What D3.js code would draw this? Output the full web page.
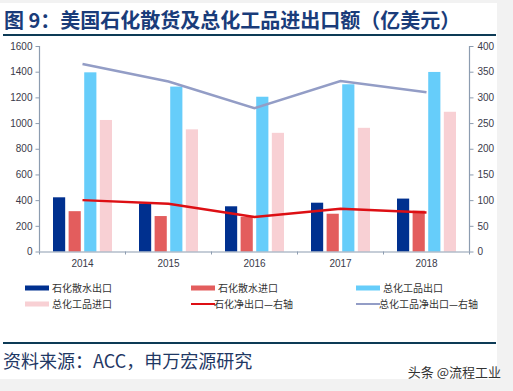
<!DOCTYPE html>
<html><head><meta charset="utf-8">
<script src="https://cdn.jsdelivr.net/npm/d3@7"></script>
<style>
body{margin:0;background:#f2f2f2;}
svg{display:block;font-family:"Liberation Sans",Arial,"Noto Sans CJK SC",sans-serif;}
</style></head><body>
<svg id="c" width="513" height="391"></svg>
<script>
const years = ["2014","2015","2016","2017","2018"];
const petroExport = [422, 374, 352, 380, 412];
const petroImport = [314, 276, 270, 294, 318];
const chemExport  = [1395, 1284, 1205, 1302, 1398];
const chemImport  = [1024, 951, 924, 963, 1088];
const petroNet    = [100, 93, 67, 83, 76];
const chemNet     = [365, 331, 279, 332, 310];
const leftTicks  = [0,200,400,600,800,1000,1200,1400,1600];
const rightTicks = [0,50,100,150,200,250,300,350,400];
const barSeries = ["石化散水出口","石化散水进口","总化工品出口","总化工品进口"];
const lineSeries = ["石化净出口—右轴","总化工品净出口—右轴"];

const svg = d3.select("#c");
svg.append("rect").attr("x",0).attr("y",3).attr("width",497).attr("height",376).attr("fill","#fff");

// title
svg.append("text").attr("x",4).attr("y",28).attr("fill","#1a3c7a").attr("font-size",20)
  .attr("font-weight","bold").attr("font-family","'Noto Sans CJK SC',sans-serif")
  .text("图 9：美国石化散货及总化工品进出口额（亿美元）");
svg.append("line").attr("x1",3).attr("x2",496).attr("y1",35).attr("y2",35)
  .attr("stroke","#0d3b56").attr("stroke-width",2);

const L=39.5, R=469.5, T=46, B=251.5;
const x = d3.scaleBand().domain(years).range([L,R]).paddingInner(0).paddingOuter(0);
const yL = d3.scaleLinear().domain([0,1600]).range([B,T]);
const yR = d3.scaleLinear().domain([0,400]).range([B,T]);
const inner = d3.scaleBand().domain([0,1,2,3]).range([13.5, x.bandwidth()-13.5]).paddingInner(0.22);

const barData = [petroExport, petroImport, chemExport, chemImport];
const barColors = ["#00308f","#e35d5d","#66cdfa","#f8d0d4"];
const lineData = [petroNet, chemNet];
const lineColors = ["#dd0f14","#939dc6"];

barData.forEach((arr,i)=>{
  svg.append("g").selectAll("rect").data(arr).join("rect")
    .attr("x",(d,j)=>x(years[j])+inner(i))
    .attr("width",inner.bandwidth())
    .attr("y",d=>yL(d)).attr("height",d=>B-yL(d))
    .attr("fill",barColors[i]);
});

// axes
const axisColor="#8c9cb0", labColor="#3a3a4a";
const gl = svg.append("g").attr("transform",`translate(${L},0)`)
  .call(d3.axisLeft(yL).tickValues(leftTicks).tickFormat(d3.format("d")).tickSize(4).tickPadding(3));
const gr = svg.append("g").attr("transform",`translate(${R},0)`)
  .call(d3.axisRight(yR).tickValues(rightTicks).tickFormat(d3.format("d")).tickSize(4).tickPadding(4));
const gx = svg.append("g").attr("transform",`translate(0,${B})`)
  .call(d3.axisBottom(x).tickSize(0).tickPadding(8));
[gl,gr,gx].forEach(g=>{
  g.selectAll("path").attr("stroke",axisColor).attr("stroke-width",1.2);
  g.selectAll("line").attr("stroke",axisColor);
  g.selectAll("text").attr("fill",labColor).attr("font-size",10)
    .attr("font-family","'Liberation Sans',Arial,sans-serif");
});
gl.select("path").attr("d",`M-0,${T}V${B}`);
gr.select("path").attr("d",`M0,${T}V${B}`);
svg.append("g").selectAll("line").data(years.concat(["end"])).join("line")
  .attr("x1",(d,i)=>L+i*x.step()).attr("x2",(d,i)=>L+i*x.step())
  .attr("y1",B).attr("y2",B+3).attr("stroke",axisColor);

// lines
lineData.forEach((arr,i)=>{
  const ln = d3.line().x((d,j)=>x(years[j])+x.bandwidth()/2).y(d=>yR(d));
  svg.append("path").datum(arr).attr("d",ln).attr("fill","none")
    .attr("stroke",lineColors[i]).attr("stroke-width",2.5);
});

// legend
const legend = [
  {t:barSeries[0],c:barColors[0],bar:true,x:25,y:288},
  {t:barSeries[1],c:barColors[1],bar:true,x:191,y:288},
  {t:barSeries[2],c:barColors[2],bar:true,x:356,y:288},
  {t:barSeries[3],c:barColors[3],bar:true,x:25,y:304},
  {t:lineSeries[0],c:lineColors[0],bar:false,x:191,y:304},
  {t:lineSeries[1],c:lineColors[1],bar:false,x:356,y:304}
];
const lg = svg.append("g").selectAll("g").data(legend).join("g")
  .attr("transform",d=>`translate(${d.x},${d.y})`);
lg.append("rect").attr("x",0).attr("width",24)
  .attr("y",d=>d.bar?-2.5:-1).attr("height",d=>d.bar?5:2).attr("fill",d=>d.c);
lg.append("text").attr("x",d=>d.bar?27:23).attr("y",3.5).attr("font-size",10)
  .attr("fill","#333").attr("font-family","'Noto Sans CJK SC',sans-serif").text(d=>d.t);

// footer
svg.append("line").attr("x1",3).attr("x2",496).attr("y1",343).attr("y2",343)
  .attr("stroke","#0d3b56").attr("stroke-width",2);
svg.append("text").attr("x",3).attr("y",368).attr("font-size",18).attr("fill","#1f3864")
  .attr("font-family","'Noto Sans CJK SC',sans-serif").text("资料来源：ACC，申万宏源研究");
svg.append("text").attr("x",501).attr("y",377).attr("text-anchor","end").attr("font-size",13)
  .attr("fill","#333").attr("font-family","'Noto Sans CJK SC',sans-serif").text("头条 @流程工业");
</script>
</body></html>
